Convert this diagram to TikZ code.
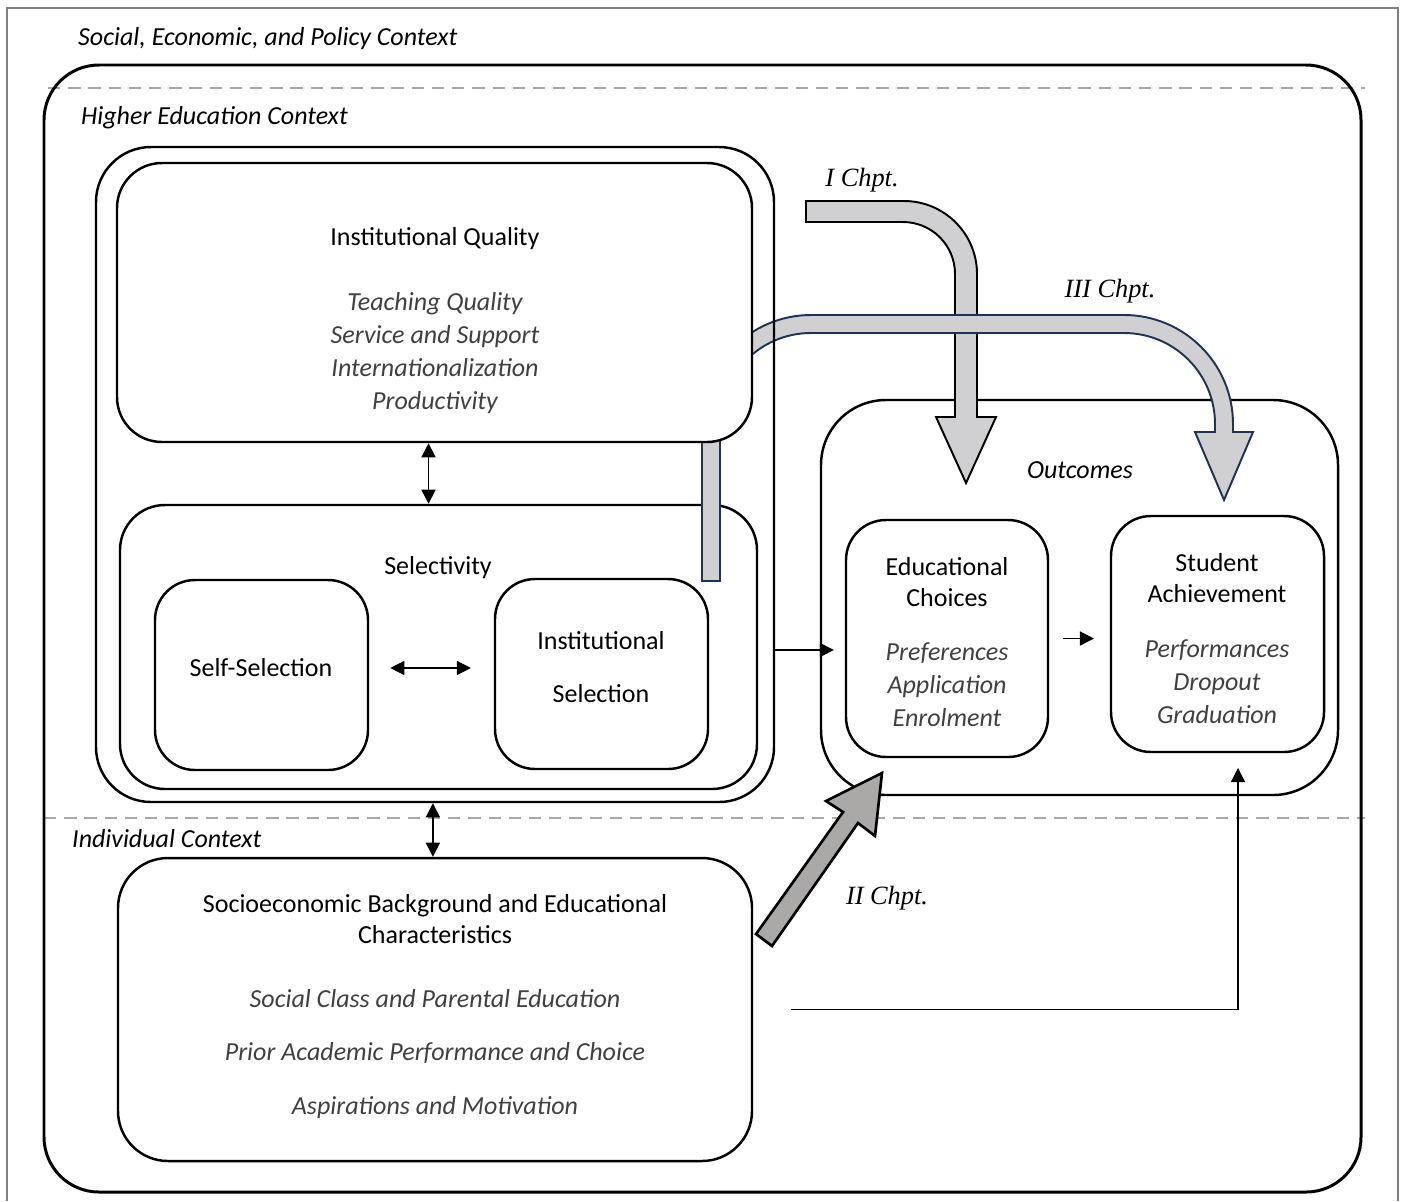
\documentclass[tikz,border=0pt]{standalone}
\usepackage{fontspec}
\setmainfont{Carlito}
\newfontfamily\chptfont{Liberation Serif}
\usetikzlibrary{arrows.meta,fit}
\definecolor{bandfill}{HTML}{D0CFD1}
\definecolor{bandfilldark}{HTML}{ABA8A8}
\definecolor{bandline}{HTML}{1F3354}
\definecolor{dashcol}{HTML}{A8A8A8}
\definecolor{itemcol}{HTML}{404040}

\begin{document}
\begin{tikzpicture}[x=0.02cm,y=-0.02cm,>={Triangle[length=8pt,width=8pt]},
	box/.style={draw,line width=1.4pt,rounded corners=#1,inner sep=0pt},
	title/.style={font=\fontsize{14.8}{18}\selectfont,align=center},
	items/.style={font=\fontsize{14.8}{18.7}\selectfont\itshape,text=itemcol,align=center},
	ctx/.style={font=\fontsize{14.8}{18}\selectfont\itshape,anchor=west},
	chpt/.style={font=\chptfont\itshape\fontsize{15}{18}\selectfont},
	link/.style={line width=0.8pt},
	dashline/.style={dashcol,line width=1pt,dash pattern=on 7pt off 4.5pt}]
	\useasboundingbox (0,0) rectangle (1405,1201);
	% frame
	\draw[gray,line width=0.7pt] (7,1201) -- (7,8) -- (1398,8) -- (1398,1201);
	\draw[dashline] (48,88) -- (1365,88);
	\draw[dashline] (44,818) -- (1365,818);
	\node[box=1.1cm,line width=1.7pt,fit={(44,65)(1361,1192)}] (world) {};
	\node[ctx] (ctxsoc) at (72,39) {Social, Economic, and Policy Context};
	\node[ctx] (ctxhe) at (75,118) {Higher Education Context};
	\node[ctx] (ctxind) at (66,839) {Individual Context};
	
	% selectivity
	\node[box=0.9cm,fit={(120,505)(757,789)}] (sel) {};
	\node[box=0.8cm,fit={(155,580)(368,770)}] (self) {};
	\node[box=0.8cm,fit={(495,579)(708,769)}] (inst) {};
	\node[title] (seltitle) at (438,568) {Selectivity};
	\node[title] (selftitle) at (261,668) {Self-Selection};
	\node[title,font=\fontsize{14.8}{30.6}\selectfont] (insttitle) at (601,667) {Institutional\\Selection};
	
	% outcomes
	\node[box=1.3cm,fit={(821,400)(1338,795)}] (outc) {};
	\node[box=0.8cm,fit={(846,520)(1048,757)}] (edu) {};
	\node[box=0.8cm,fit={(1111,516)(1324,752)}] (ach) {};
	\node[title,font=\fontsize{14.8}{18}\selectfont\itshape] (outtitle) at (1080,470) {Outcomes};
	\node[title] (edutitle) at (947,582) {Educational\\Choices};
	\node[items] (eduitems) at (947,685) {Preferences\\Application\\Enrolment};
	\node[title] (achtitle) at (1217,578) {Student\\Achievement};
	\node[items] (achitems) at (1217,682) {Performances\\Dropout\\Graduation};
	
	% I Chpt.
	\draw[line width=1.1pt,fill=bandfill] (806,201) -- (904,201) arc[start angle=270,end angle=360,radius=73]
		-- (977,417) -- (996,417) -- (966,483) -- (936,417) -- (955,417) -- (955,274)
		arc[start angle=0,end angle=-90,radius=52] -- (806,222) -- cycle;
	% III Chpt.
	\draw[line width=1.1pt,draw=bandline,fill=bandfill] (702,581) -- (702,424) arc[start angle=180,end angle=270,radius=109]
		-- (1124,315) arc[start angle=270,end angle=360,radius=109]
		-- (1233,432) -- (1253,432) -- (1224,500) -- (1195,432) -- (1215,432) -- (1215,424)
		arc[start angle=0,end angle=-90,radius=91] -- (811,333)
		arc[start angle=270,end angle=180,radius=91] -- (720,581) -- cycle;
	\node[chpt] (chpt1) at (862,180) {I Chpt.};
	\node[chpt] (chpt3) at (1110,291) {III Chpt.};
	
	% higher education
	\node[box=1.1cm,fit={(96,147)(774,802)}] (he) {};
	\node[box=0.9cm,fill=white,fit={(117,163)(752,442)}] (iq) {};
	\node[title] (iqtitle) at (435,239) {Institutional Quality};
	\node[items] (iqitems) at (435,353) {Teaching Quality\\Service and Support\\Internationalization\\Productivity};
	
	% individual
	\node[box=1.0cm,fit={(118,858)(752,1161)}] (socio) {};
	\node[title] (sociotitle) at (435,919) {Socioeconomic Background and Educational\\Characteristics};
	\node[items,font=\fontsize{14.8}{30.6}\selectfont\itshape] (socioitems) at (435,1054) {Social Class and Parental Education\\Prior Academic Performance and Choice\\Aspirations and Motivation};
	
	% II Chpt.
	\draw[line width=1.5pt,fill=bandfilldark,line join=miter] (756,934) -- (843,812) -- (826,801) -- (882,773)
		-- (875,836) -- (858,823) -- (772,946) -- cycle;
	\node[chpt] (chpt2) at (887,898) {II Chpt.};
	
	% links
	\coordinate (heout) at (774,650);
	\coordinate (achin) at (1238,768);
	\draw[link,<->] ([xshift=-3.4pt]iq.south) -- ([xshift=-3.4pt]iq.south |- sel.north);
	\draw[link,<->,shorten <=12pt,shorten >=13pt] ([yshift=4pt]self.east) -- ([yshift=4pt]self.east -| inst.west);
	\draw[link,<->] ([xshift=-1.2pt]he.south) -- ([xshift=-1.2pt]he.south |- socio.north);
	\draw[link,->,shorten >=-8pt] (heout) -- (heout -| outc.west);
	\draw[link,->,shorten <=8pt,shorten >=9pt] (edu.east) -- (edu.east -| ach.west);
	\draw[link,->,shorten <=21.5pt] (socio.east) -| (achin);
\end{tikzpicture}
\end{document}
